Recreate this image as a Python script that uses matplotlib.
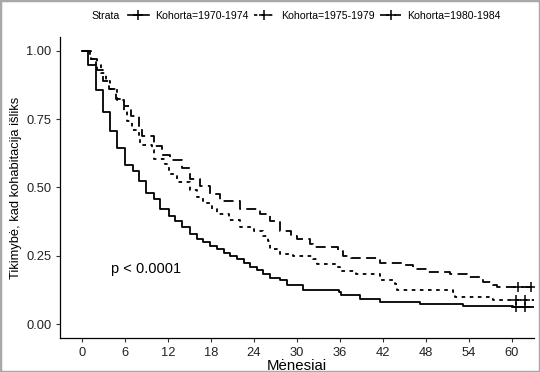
import numpy as np
import matplotlib.pyplot as plt
from matplotlib.lines import Line2D
from matplotlib.patches import Rectangle

plt.rcParams['font.family'] = ['Liberation Sans', 'DejaVu Sans']

# Kaplan-Meier step points (months, survival)
t70 = [0, 0.9, 2.0, 2.9, 3.9, 4.95, 6.0, 7.1, 8.0, 8.95, 10.0, 10.9, 12.1, 13.0, 13.9,
       15.1, 16.0, 16.9, 17.9, 18.8, 19.8, 20.7, 21.6, 22.6, 23.5, 24.4, 25.3, 26.2,
       27.6, 28.6, 30.9, 35.8, 36.1, 38.8, 41.6, 47.2, 53.2, 60.2, 63.6]
s70 = [1.0, 0.95, 0.857, 0.776, 0.708, 0.645, 0.584, 0.56, 0.524, 0.481, 0.457, 0.421,
       0.396, 0.378, 0.354, 0.33, 0.31, 0.30, 0.287, 0.275, 0.262, 0.251, 0.24, 0.225,
       0.208, 0.197, 0.185, 0.17, 0.16, 0.142, 0.124, 0.118, 0.105, 0.093, 0.081, 0.073,
       0.067, 0.063, 0.063]

t75 = [0, 1.1, 1.9, 2.6, 3.4, 3.9, 4.9, 5.9, 6.3, 6.95, 7.9, 8.1, 9.7, 10.0, 11.6, 12.1,
       13.2, 15.1, 16.0, 16.9, 18.1, 18.8, 20.5, 22.1, 24.0, 25.3, 26.0, 26.2, 27.6, 29.5,
       32.3, 32.8, 35.6, 36.0, 38.3, 41.6, 43.7, 43.9, 51.8, 52.1, 56.9, 57.4, 63.6]
s75 = [1.0, 0.97, 0.95, 0.92, 0.89, 0.86, 0.82, 0.78, 0.745, 0.712, 0.681, 0.655, 0.639,
       0.605, 0.585, 0.55, 0.521, 0.49, 0.465, 0.445, 0.42, 0.403, 0.38, 0.354, 0.34,
       0.324, 0.305, 0.275, 0.257, 0.25, 0.239, 0.221, 0.208, 0.196, 0.182, 0.16, 0.148,
       0.126, 0.118, 0.099, 0.093, 0.087, 0.087]

t80 = [0, 1.3, 2.1, 2.9, 3.8, 4.8, 5.9, 6.8, 7.9, 8.35, 10.0, 11.1, 12.3, 13.9, 15.1,
       16.5, 17.9, 19.3, 22.1, 24.9, 26.2, 27.6, 29.1, 30.0, 31.8, 32.2, 35.7, 36.4, 37.6,
       41.6, 44.8, 46.2, 48.1, 51.4, 53.7, 55.5, 56.0, 57.4, 57.9, 63.6]
s80 = [1.0, 0.97, 0.93, 0.89, 0.86, 0.825, 0.8, 0.76, 0.717, 0.687, 0.651, 0.62, 0.60,
       0.572, 0.53, 0.505, 0.475, 0.451, 0.421, 0.403, 0.378, 0.342, 0.324, 0.312, 0.293,
       0.281, 0.269, 0.251, 0.243, 0.223, 0.215, 0.202, 0.19, 0.182, 0.172, 0.166, 0.154,
       0.142, 0.136, 0.136]

# censoring marks
c70 = [60.6, 61.8]
c75 = [60.6, 61.8]
c80 = [60.8, 62.6]

labels = ['Kohorta=1970-1974', 'Kohorta=1975-1979', 'Kohorta=1980-1984']
styles = ['-', (0, (2, 2.5)), (0, (5.5, 3))]
xticks = [0, 6, 12, 18, 24, 30, 36, 42, 48, 54, 60]
yticks = [0.00, 0.25, 0.50, 0.75, 1.00]

fig = plt.figure(figsize=(5.4, 3.72), dpi=100)
ax = fig.add_axes([0.112, 0.092, 0.876, 0.808])

series = [(t70, s70, c70), (t75, s75, c75), (t80, s80, c80)]
for (t, s, c), ls in zip(series, styles):
    ax.step(t, s, where='post', color='black', linewidth=1.3, linestyle=ls)
    cs = [s[np.searchsorted(t, x, side='right') - 1] for x in c]
    ax.plot(c, cs, linestyle='none', marker='+', markersize=7, color='black',
            markeredgewidth=1.1)

ax.text(4.0, 0.2, 'p < 0.0001', fontsize=10.5, va='center', ha='left')

ax.set_xlim(-3, 63)
ax.set_ylim(-0.05, 1.05)
ax.set_xticks(xticks)
ax.set_yticks(yticks)
ax.set_yticklabels(['%.2f' % v for v in yticks])
ax.tick_params(labelsize=9.3, length=3, width=0.8, colors='#333333', labelcolor='#222222')
ax.spines['top'].set_visible(False)
ax.spines['right'].set_visible(False)
for sp in ['left', 'bottom']:
    ax.spines[sp].set_linewidth(0.9)
ax.set_xlabel('Mėnesiai', fontsize=10.8, labelpad=0.5)
ax.set_ylabel('Tikimybė, kad kohabitacija išliks', fontsize=9.3, labelpad=3)

handles = [Line2D([], [], color='black', linestyle=ls, linewidth=1.2, marker='+',
                  markersize=7, markeredgewidth=1.1) for ls in styles]
fig.text(0.170, 0.957, 'Strata', fontsize=7.6, va='center', ha='left')
fig.legend(handles, labels, loc='center', bbox_to_anchor=(0.582, 0.957), ncol=3,
           frameon=False, fontsize=7.6, handlelength=2.0, handletextpad=0.6,
           columnspacing=0.5, borderpad=0)

fig.patches.append(Rectangle((0, 0), 1, 1, transform=fig.transFigure, fill=False,
                             edgecolor='#a8a8a8', linewidth=2.5))

fig.savefig('out.png', dpi=100)
